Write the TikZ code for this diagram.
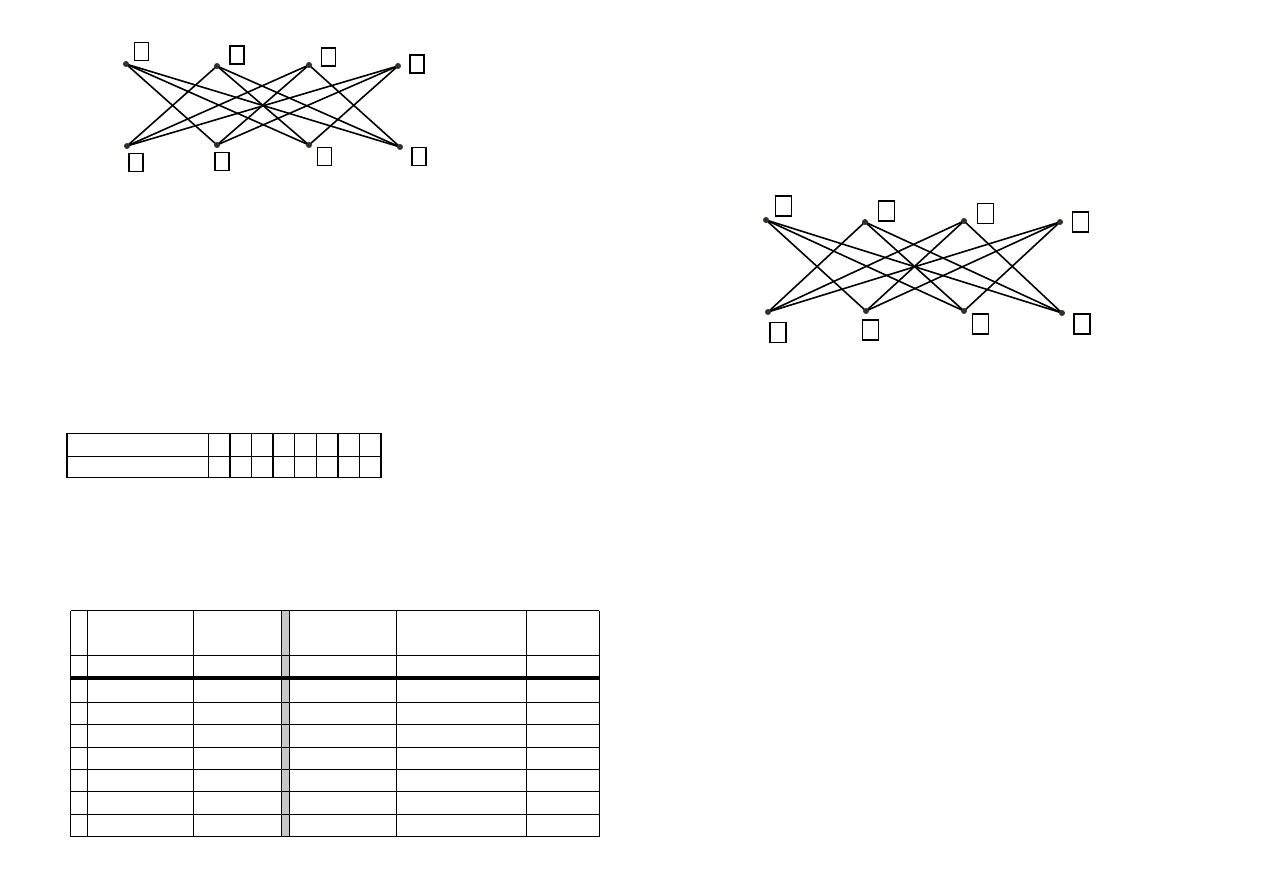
\documentclass[tikz,border=0pt]{standalone}
\usepackage{tikz}
\usetikzlibrary{positioning}
\pgfdeclarelayer{background}
\pgfsetlayers{background,main}
\tikzset{
  vertex dot/.style={
    circle,
    fill=black!85!olive,
    inner sep=0pt,
    minimum size=6pt
  },
  label box/.style={
    draw,
    line width=1.2pt,
    inner sep=0pt,
    minimum width=14pt,
    minimum height=18pt
  },
  big box/.style={
    label box,
    minimum width=16pt,
    minimum height=20pt
  },
  edge line/.style={line width=1.6pt},
  grid line/.style={line width=1.5pt},
  thick rule/.style={line width=3.8pt}
}

\begin{document}
\begin{tikzpicture}[x=1pt, y=-1pt]
  \useasboundingbox (0,0) rectangle (1263,893);

  % first graph (upper left)
  \foreach \n/\x/\y in {1/126/64, 2/217/66, 3/309/65, 4/398/66}
    \node[vertex dot] (ta\n) at (\x,\y) {};
  \foreach \n/\x/\y in {1/127/146, 2/217/145, 3/309/145, 4/400/147}
    \node[vertex dot] (ba\n) at (\x,\y) {};
  \begin{pgfonlayer}{background}
    \foreach \i in {1,...,4}
      \foreach \j in {1,...,4}
        {\ifnum\i=\j\else \draw[edge line] (ta\i.center) -- (ba\j.center);\fi}
  \end{pgfonlayer}
  \foreach \n/\x/\y in {1/141.5/51.5, 2/237/55, 3/328.5/57, 4/417/64}
    \node[label box] (lta\n) at (\x,\y) {};
  \foreach \n/\x/\y in {1/136/162.5, 2/222/161.5, 3/324.5/156.5, 4/419/156.5}
    \node[label box] (lba\n) at (\x,\y) {};

  % second graph (right)
  \foreach \n/\x/\y in {1/766/220, 2/865/222, 3/964/221, 4/1060/222}
    \node[vertex dot] (tb\n) at (\x,\y) {};
  \foreach \n/\x/\y in {1/768/312, 2/866/311, 3/964/311, 4/1062/313}
    \node[vertex dot] (bb\n) at (\x,\y) {};
  \begin{pgfonlayer}{background}
    \foreach \i in {1,...,4}
      \foreach \j in {1,...,4}
        {\ifnum\i=\j\else \draw[edge line] (tb\i.center) -- (bb\j.center);\fi}
  \end{pgfonlayer}
  \foreach \n/\x/\y in {1/783.5/206, 2/886.5/211, 3/985.5/213.5, 4/1080.5/222}
    \node[big box] (ltb\n) at (\x,\y) {};
  \foreach \n/\x/\y in {1/778/332.5, 2/870.5/330, 3/980.5/324, 4/1082/324}
    \node[big box] (lbb\n) at (\x,\y) {};

  % small table
  \draw[grid line] (67,433.5) rectangle (381,477.5);
  \draw[grid line] (67,456.5) -- (381,456.5);
  \foreach \k in {0,...,7}
    \draw[grid line] (208.3+21.6*\k,433.5) -- (208.3+21.6*\k,477.5);

  % big table
  \fill[black!22] (281.7,610.7) rectangle (289.3,836.7);
  \foreach \x in {70.7, 87.3, 193.3, 281.7, 289.3, 396.3, 526.7, 599.3}
    \draw[grid line] (\x,610.7) -- (\x,836.7);
  \foreach \y in {610.7, 655.7, 702.3, 724.3, 747.3, 769.7, 791.7, 814.3, 836.7}
    \draw[grid line] (70.7,\y) -- (599.3,\y);
  \draw[thick rule] (70.7,678.3) -- (599.3,678.3);
\end{tikzpicture}
\end{document}
